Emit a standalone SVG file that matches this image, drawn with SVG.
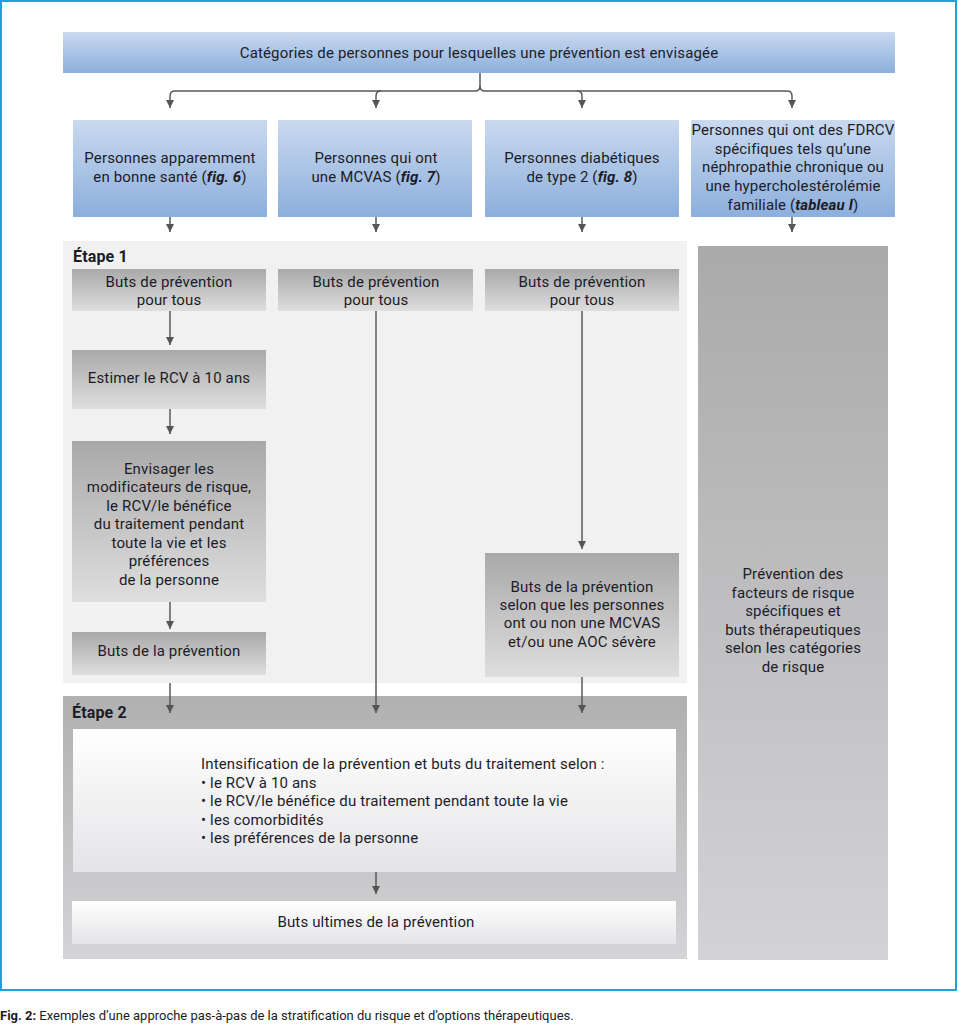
<svg xmlns="http://www.w3.org/2000/svg" width="959" height="1024" viewBox="0 0 959 1024">
<defs>
<linearGradient id="gBlue" x1="0" y1="0" x2="0" y2="1"><stop offset="0" stop-color="#c9d9ef"/><stop offset="1" stop-color="#8cafdc"/></linearGradient>
<linearGradient id="gGray" x1="0" y1="0" x2="0" y2="1"><stop offset="0" stop-color="#a9a9a9"/><stop offset="1" stop-color="#dedede"/></linearGradient>
<linearGradient id="gWhite" x1="0" y1="0" x2="0" y2="1"><stop offset="0" stop-color="#ffffff"/><stop offset="1" stop-color="#e4e4e7"/></linearGradient>
<linearGradient id="gPanel2" x1="0" y1="0" x2="0" y2="1"><stop offset="0" stop-color="#b0b0b0"/><stop offset="1" stop-color="#d4d4d7"/></linearGradient>
<linearGradient id="gRight" x1="0" y1="0" x2="0" y2="1"><stop offset="0" stop-color="#aaaaaa"/><stop offset="1" stop-color="#d3d3d7"/></linearGradient>
<marker id="ah" viewBox="0 0 10 10" refX="10" refY="5" markerWidth="8" markerHeight="8" markerUnits="userSpaceOnUse" orient="auto"><path d="M0,0 L10,5 L0,10 z" fill="#555"/></marker>
</defs>
<style>
text{font-family:Roboto,"Liberation Sans",sans-serif;font-size:15px;letter-spacing:0.15px;fill:#1c1c28}
.c{text-anchor:middle}
.b{font-weight:bold}
.st{font-size:16px}
.cap{font-size:13px;letter-spacing:0}
.ln{fill:none;stroke:#5a5a5a;stroke-width:1.5}
</style>
<rect x="1" y="1" width="955" height="989" fill="#ffffff" stroke="#1ea0dc" stroke-width="2"/>

<g id="top">
<rect x="63" y="32" width="832" height="41" fill="url(#gBlue)"/>
<text class="c" x="479" y="58">Catégories de personnes pour lesquelles une prévention est envisagée</text>
</g>

<g id="cat1"><rect x="73" y="120" width="194" height="97" fill="url(#gBlue)"/>
<text class="c" x="170" y="163">Personnes apparemment</text>
<text class="c" x="170" y="182">en bonne santé (<tspan class="b" font-style="italic">fig. 6</tspan>)</text></g>
<g id="cat2"><rect x="278" y="120" width="194" height="97" fill="url(#gBlue)"/>
<text class="c" x="376" y="163">Personnes qui ont</text>
<text class="c" x="376" y="182">une MCVAS (<tspan class="b" font-style="italic">fig. 7</tspan>)</text></g>
<g id="cat3"><rect x="485" y="120" width="194" height="97" fill="url(#gBlue)"/>
<text class="c" x="582" y="163">Personnes diabétiques</text>
<text class="c" x="582" y="182">de type 2 (<tspan class="b" font-style="italic">fig. 8</tspan>)</text></g>
<g id="cat4"><rect x="691" y="120" width="204" height="97" fill="url(#gBlue)"/>
<text class="c" x="793" y="135">Personnes qui ont des FDRCV</text>
<text class="c" x="793" y="154">spécifiques tels qu’une</text>
<text class="c" x="793" y="172">néphropathie chronique ou</text>
<text class="c" x="793" y="191">une hypercholestérolémie</text>
<text class="c" x="793" y="210">familiale (<tspan class="b" font-style="italic">tableau I</tspan>)</text></g>

<g id="etape1">
<rect x="63" y="241" width="624" height="442" fill="#f1f1f1"/>
<text class="b st" x="73" y="262">Étape 1</text>
</g>

<g id="b1"><rect x="72" y="269" width="194" height="42" fill="url(#gGray)"/>
<text class="c" x="169" y="287">Buts de prévention</text><text class="c" x="169" y="305">pour tous</text></g>
<g id="b2"><rect x="278" y="269" width="195" height="42" fill="url(#gGray)"/>
<text class="c" x="376" y="287">Buts de prévention</text><text class="c" x="376" y="305">pour tous</text></g>
<g id="b3"><rect x="485" y="269" width="194" height="42" fill="url(#gGray)"/>
<text class="c" x="582" y="287">Buts de prévention</text><text class="c" x="582" y="305">pour tous</text></g>

<g id="estimer"><rect x="72" y="350" width="194" height="59" fill="url(#gGray)"/>
<text class="c" x="169" y="383">Estimer le RCV à 10 ans</text></g>

<g id="envisager"><rect x="72" y="441" width="194" height="161" fill="url(#gGray)"/>
<text class="c" x="169" y="474">Envisager les</text>
<text class="c" x="169" y="492">modificateurs de risque,</text>
<text class="c" x="169" y="511">le RCV/le bénéfice</text>
<text class="c" x="169" y="529">du traitement pendant</text>
<text class="c" x="169" y="548">toute la vie et les</text>
<text class="c" x="169" y="566">préférences</text>
<text class="c" x="169" y="585">de la personne</text></g>

<g id="butsprev"><rect x="72" y="632" width="194" height="43" fill="url(#gGray)"/>
<text class="c" x="169" y="656">Buts de la prévention</text></g>

<g id="butsselon"><rect x="485" y="553" width="194" height="124" fill="url(#gGray)"/>
<text class="c" x="582" y="592">Buts de la prévention</text>
<text class="c" x="582" y="610">selon que les personnes</text>
<text class="c" x="582" y="628">ont ou non une MCVAS</text>
<text class="c" x="582" y="647">et/ou une AOC sévère</text></g>

<g id="right"><rect x="698" y="246" width="190" height="714" fill="url(#gRight)"/>
<text class="c" x="793" y="579">Prévention des</text>
<text class="c" x="793" y="598">facteurs de risque</text>
<text class="c" x="793" y="616">spécifiques et</text>
<text class="c" x="793" y="635">buts thérapeutiques</text>
<text class="c" x="793" y="653">selon les catégories</text>
<text class="c" x="793" y="672">de risque</text></g>

<g id="etape2">
<rect x="63" y="696" width="624" height="263" fill="url(#gPanel2)"/>
<text class="b st" x="72" y="718">Étape 2</text>
</g>

<g id="intens"><rect x="73" y="729" width="603" height="143" fill="url(#gWhite)"/>
<text x="201" y="769">Intensification de la prévention et buts du traitement selon :</text>
<text x="201" y="788">• le RCV à 10 ans</text>
<text x="201" y="806">• le RCV/le bénéfice du traitement pendant toute la vie</text>
<text x="201" y="825">• les comorbidités</text>
<text x="201" y="843">• les préférences de la personne</text></g>

<g id="ultimes"><rect x="72" y="901" width="604" height="43" fill="url(#gWhite)"/>
<text class="c" x="376" y="927">Buts ultimes de la prévention</text></g>

<g id="connectors">
<path class="ln" d="M480,73 V86 Q480,91 475,91 H175 Q170,91 170,96 V108" marker-end="url(#ah)"/>
<path class="ln" d="M480,86 Q480,91 485,91 H787 Q792,91 792,96 V108" marker-end="url(#ah)"/>
<path class="ln" d="M381,91 Q376,91 376,96 V108" marker-end="url(#ah)"/>
<path class="ln" d="M577,91 Q582,91 582,96 V108" marker-end="url(#ah)"/>
<path class="ln" d="M170,217 V232" marker-end="url(#ah)"/>
<path class="ln" d="M376,217 V232" marker-end="url(#ah)"/>
<path class="ln" d="M582,217 V232" marker-end="url(#ah)"/>
<path class="ln" d="M792,217 V232" marker-end="url(#ah)"/>
<path class="ln" d="M170,311 V345" marker-end="url(#ah)"/>
<path class="ln" d="M170,409 V434" marker-end="url(#ah)"/>
<path class="ln" d="M170,602 V629" marker-end="url(#ah)"/>
<path class="ln" d="M582,311 V549" marker-end="url(#ah)"/>
<path class="ln" d="M170,683 V713" marker-end="url(#ah)"/>
<path class="ln" d="M376,311 V713" marker-end="url(#ah)"/>
<path class="ln" d="M582,677 V713" marker-end="url(#ah)"/>
<path class="ln" d="M376,872 V894" marker-end="url(#ah)"/>
</g>

<text class="cap" x="0" y="1020"><tspan class="b">Fig. 2:</tspan> Exemples d’une approche pas-à-pas de la stratification du risque et d’options thérapeutiques.</text>
</svg>
